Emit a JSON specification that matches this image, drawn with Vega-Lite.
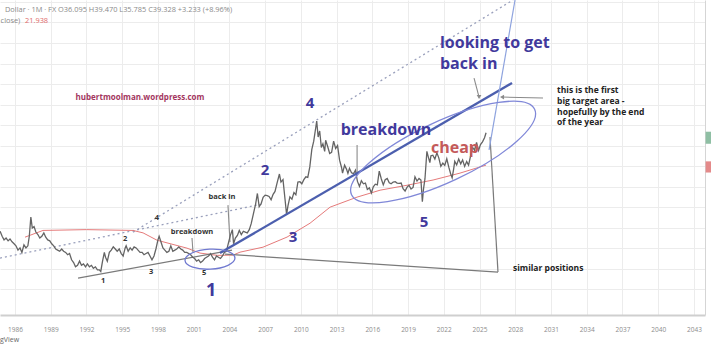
{
  "$schema": "https://vega.github.io/schema/vega-lite/v6.json",
  "width": 705,
  "height": 315,
  "autosize": {"type": "none"},
  "padding": {"left": 0, "top": 0, "right": 6, "bottom": 35},
  "background": "white",
  "config": {"view": {"stroke": null}, "font": "Open Sans"},
  "datasets": {
    "price": [
      {"year":1984.75,"price":7.2},{"year":1984.92,"price":6.6},{"year":1985.08,"price":6.2},{"year":1985.25,"price":6.4},{"year":1985.42,"price":6.1},{"year":1985.58,"price":6.3},{"year":1985.75,"price":6.0},{"year":1985.92,"price":5.8},
      {"year":1986.08,"price":5.6},{"year":1986.25,"price":5.2},{"year":1986.42,"price":5.4},{"year":1986.58,"price":5.0},{"year":1986.75,"price":5.7},{"year":1986.92,"price":5.4},
      {"year":1987.08,"price":5.6},{"year":1987.2,"price":6.6},{"year":1987.33,"price":9.2},{"year":1987.45,"price":7.6},{"year":1987.6,"price":7.8},{"year":1987.75,"price":7.1},{"year":1987.92,"price":6.8},
      {"year":1988.08,"price":6.4},{"year":1988.25,"price":6.6},{"year":1988.42,"price":7.0},{"year":1988.58,"price":6.5},{"year":1988.75,"price":6.2},{"year":1988.92,"price":6.1},
      {"year":1989.08,"price":5.8},{"year":1989.25,"price":5.6},{"year":1989.42,"price":5.3},{"year":1989.58,"price":5.2},{"year":1989.75,"price":5.1},{"year":1989.92,"price":5.3},
      {"year":1990.08,"price":5.1},{"year":1990.25,"price":5.0},{"year":1990.42,"price":4.8},{"year":1990.58,"price":4.9},{"year":1990.75,"price":4.4},{"year":1990.92,"price":4.2},
      {"year":1991.08,"price":3.9},{"year":1991.25,"price":4.0},{"year":1991.42,"price":4.3},{"year":1991.58,"price":4.0},{"year":1991.75,"price":4.1},{"year":1991.92,"price":3.9},
      {"year":1992.08,"price":4.1},{"year":1992.25,"price":3.9},{"year":1992.42,"price":4.0},{"year":1992.58,"price":3.8},{"year":1992.75,"price":3.9},{"year":1992.92,"price":3.7},
      {"year":1993.08,"price":3.7},{"year":1993.2,"price":3.6},{"year":1993.35,"price":4.3},{"year":1993.5,"price":5.0},{"year":1993.6,"price":4.6},{"year":1993.75,"price":4.3},{"year":1993.92,"price":5.0},
      {"year":1994.08,"price":5.2},{"year":1994.25,"price":5.5},{"year":1994.42,"price":5.3},{"year":1994.58,"price":5.1},{"year":1994.75,"price":5.3},{"year":1994.92,"price":4.9},
      {"year":1995.08,"price":4.7},{"year":1995.25,"price":5.4},{"year":1995.33,"price":5.6},{"year":1995.5,"price":5.1},{"year":1995.67,"price":5.4},{"year":1995.83,"price":5.2},
      {"year":1996.0,"price":5.5},{"year":1996.17,"price":5.4},{"year":1996.33,"price":5.2},{"year":1996.5,"price":5.0},{"year":1996.67,"price":5.0},{"year":1996.83,"price":4.8},
      {"year":1997.0,"price":4.9},{"year":1997.17,"price":5.0},{"year":1997.33,"price":4.7},{"year":1997.5,"price":4.4},{"year":1997.67,"price":4.7},{"year":1997.83,"price":5.3},
      {"year":1998.0,"price":6.2},{"year":1998.1,"price":6.6},{"year":1998.25,"price":6.0},{"year":1998.42,"price":5.4},{"year":1998.58,"price":5.2},{"year":1998.75,"price":5.0},{"year":1998.92,"price":5.1},
      {"year":1999.08,"price":5.6},{"year":1999.25,"price":5.1},{"year":1999.42,"price":5.2},{"year":1999.58,"price":5.3},{"year":1999.75,"price":5.5},{"year":1999.92,"price":5.3},
      {"year":2000.08,"price":5.2},{"year":2000.25,"price":5.0},{"year":2000.42,"price":5.0},{"year":2000.58,"price":4.9},{"year":2000.75,"price":4.8},{"year":2000.92,"price":4.6},
      {"year":2001.08,"price":4.5},{"year":2001.25,"price":4.3},{"year":2001.42,"price":4.4},{"year":2001.58,"price":4.2},{"year":2001.75,"price":4.3},{"year":2001.92,"price":4.5},
      {"year":2002.08,"price":4.6},{"year":2002.25,"price":4.7},{"year":2002.42,"price":4.9},{"year":2002.58,"price":4.6},{"year":2002.75,"price":4.4},{"year":2002.92,"price":4.7},
      {"year":2003.08,"price":4.6},{"year":2003.25,"price":4.5},{"year":2003.42,"price":4.7},{"year":2003.58,"price":5.0},{"year":2003.75,"price":5.1},{"year":2003.92,"price":5.9},
      {"year":2004.08,"price":6.7},{"year":2004.25,"price":7.4},{"year":2004.35,"price":5.8},{"year":2004.5,"price":6.4},{"year":2004.67,"price":6.7},{"year":2004.83,"price":7.3},
      {"year":2005.0,"price":6.8},{"year":2005.17,"price":7.2},{"year":2005.33,"price":7.1},{"year":2005.5,"price":7.0},{"year":2005.67,"price":7.4},{"year":2005.83,"price":8.2},
      {"year":2006.0,"price":9.6},{"year":2006.2,"price":11.5},{"year":2006.35,"price":13.8},{"year":2006.5,"price":11.0},{"year":2006.67,"price":11.6},{"year":2006.83,"price":12.9},
      {"year":2007.0,"price":13.4},{"year":2007.17,"price":13.3},{"year":2007.33,"price":13.1},{"year":2007.5,"price":12.4},{"year":2007.67,"price":13.6},{"year":2007.83,"price":14.3},
      {"year":2008.0,"price":16.5},{"year":2008.2,"price":19.3},{"year":2008.33,"price":16.8},{"year":2008.5,"price":17.5},{"year":2008.67,"price":12.5},{"year":2008.8,"price":9.6},{"year":2008.92,"price":11.2},
      {"year":2009.08,"price":13.0},{"year":2009.25,"price":12.5},{"year":2009.42,"price":14.0},{"year":2009.58,"price":13.5},{"year":2009.75,"price":16.8},{"year":2009.92,"price":16.9},
      {"year":2010.08,"price":16.3},{"year":2010.25,"price":17.5},{"year":2010.42,"price":18.4},{"year":2010.58,"price":18.2},{"year":2010.75,"price":21.8},{"year":2010.92,"price":29.5},
      {"year":2011.08,"price":34.0},{"year":2011.25,"price":43.0},{"year":2011.33,"price":48.0},{"year":2011.45,"price":36.5},{"year":2011.58,"price":40.5},{"year":2011.72,"price":30.5},{"year":2011.85,"price":32.5},
      {"year":2012.0,"price":28.5},{"year":2012.08,"price":34.5},{"year":2012.25,"price":31.0},{"year":2012.42,"price":27.5},{"year":2012.58,"price":28.0},{"year":2012.75,"price":34.0},{"year":2012.92,"price":30.0},
      {"year":2013.08,"price":31.5},{"year":2013.25,"price":24.5},{"year":2013.42,"price":21.5},{"year":2013.5,"price":19.6},{"year":2013.67,"price":22.5},{"year":2013.83,"price":21.0},{"year":2013.95,"price":19.5},
      {"year":2014.08,"price":21.3},{"year":2014.25,"price":19.7},{"year":2014.42,"price":19.4},{"year":2014.58,"price":20.6},{"year":2014.75,"price":17.0},{"year":2014.92,"price":15.6},
      {"year":2015.08,"price":17.2},{"year":2015.25,"price":16.3},{"year":2015.42,"price":16.5},{"year":2015.58,"price":14.8},{"year":2015.75,"price":15.2},{"year":2015.92,"price":13.9},
      {"year":2016.08,"price":15.5},{"year":2016.25,"price":16.2},{"year":2016.42,"price":16.0},{"year":2016.58,"price":20.3},{"year":2016.75,"price":17.8},{"year":2016.92,"price":16.0},
      {"year":2017.08,"price":17.5},{"year":2017.25,"price":17.9},{"year":2017.42,"price":16.6},{"year":2017.58,"price":16.3},{"year":2017.75,"price":16.8},{"year":2017.92,"price":16.9},
      {"year":2018.08,"price":16.5},{"year":2018.25,"price":16.4},{"year":2018.42,"price":16.5},{"year":2018.58,"price":15.0},{"year":2018.75,"price":14.4},{"year":2018.92,"price":15.4},
      {"year":2019.08,"price":15.9},{"year":2019.25,"price":14.9},{"year":2019.42,"price":15.3},{"year":2019.58,"price":18.4},{"year":2019.75,"price":17.1},{"year":2019.92,"price":17.9},
      {"year":2020.08,"price":17.4},{"year":2020.2,"price":12.0},{"year":2020.3,"price":15.0},{"year":2020.42,"price":17.8},{"year":2020.58,"price":28.5},{"year":2020.67,"price":26.5},{"year":2020.83,"price":23.5},{"year":2020.92,"price":26.4},
      {"year":2021.08,"price":26.7},{"year":2021.25,"price":25.0},{"year":2021.42,"price":27.8},{"year":2021.58,"price":25.5},{"year":2021.75,"price":22.0},{"year":2021.92,"price":23.3},
      {"year":2022.08,"price":22.4},{"year":2022.25,"price":25.1},{"year":2022.42,"price":21.7},{"year":2022.58,"price":19.3},{"year":2022.7,"price":18.1},{"year":2022.83,"price":21.1},{"year":2022.92,"price":24.0},
      {"year":2023.08,"price":22.6},{"year":2023.25,"price":25.0},{"year":2023.42,"price":23.0},{"year":2023.58,"price":24.6},{"year":2023.75,"price":22.0},{"year":2023.92,"price":23.9},
      {"year":2024.08,"price":22.5},{"year":2024.25,"price":26.4},{"year":2024.42,"price":30.5},{"year":2024.58,"price":29.1},{"year":2024.75,"price":33.3},{"year":2024.92,"price":29.0},
      {"year":2025.08,"price":32.0},{"year":2025.25,"price":33.6},{"year":2025.42,"price":36.1},{"year":2025.55,"price":39.3}
    ],
    "ma": [
      {"year":1986.84,"price":6.5},{"year":1988.35,"price":7.3},{"year":1992.0,"price":7.4},{"year":1995.9,"price":7.3},{"year":1996.75,"price":7.0},{"year":1997.92,"price":6.17},
      {"year":2000.44,"price":5.38},{"year":2001.53,"price":4.94},{"year":2003.0,"price":4.75},{"year":2004.3,"price":4.77},{"year":2004.89,"price":5.02},{"year":2006.82,"price":5.47},
      {"year":2008.84,"price":6.51},{"year":2010.77,"price":8.27},{"year":2012.45,"price":10.9},{"year":2014.72,"price":12.96},{"year":2016.65,"price":14.6},{"year":2018.91,"price":15.9},
      {"year":2021.1,"price":17.4},{"year":2023.36,"price":19.6},{"year":2025.55,"price":22.5}
    ],
    "segs": [
      {"id":"t1","kind":"trend","year":2003.21,"price":4.94},{"id":"t1","kind":"trend","year":2027.73,"price":92.6},
      {"id":"s1","kind":"steep","year":2025.8,"price":29.2},{"id":"s1","kind":"steep","year":2027.98,"price":387},
      {"id":"d1","kind":"dotted","year":1995.91,"price":7.09},{"id":"d1","kind":"dotted","year":2027.81,"price":387},
      {"id":"d2","kind":"dotted","year":1984.74,"price":4.53},{"id":"d2","kind":"dotted","year":2006.74,"price":11.49},
      {"id":"g1","kind":"gray","year":1991.29,"price":3.21},{"id":"g1","kind":"gray","year":2004.22,"price":5.2},
      {"id":"g2","kind":"gray","year":2003.63,"price":4.85},{"id":"g2","kind":"gray","year":2026.55,"price":3.56},
      {"id":"g3","kind":"gray","year":2025.88,"price":36.5},{"id":"g3","kind":"gray","year":2026.55,"price":3.56},
      {"id":"a1","kind":"arrow","year":2030.33,"price":71.5},{"id":"a1","kind":"arrow","year":2026.89,"price":72.7},
      {"id":"a2","kind":"arrow","year":2024.54,"price":100.9},{"id":"a2","kind":"arrow","year":2024.96,"price":72.7},
      {"id":"a3","kind":"arrow","year":2014.72,"price":31.8},{"id":"a3","kind":"arrow","year":2014.72,"price":18.9},
      {"id":"a4","kind":"arrow","year":2003.88,"price":11.29},{"id":"a4","kind":"arrow","year":2004.05,"price":5.97},
      {"id":"a5","kind":"arrow","year":2000.86,"price":6.4},{"id":"a5","kind":"arrow","year":2000.94,"price":5.02}
    ],
    "heads": [
      {"kind":"left","year":2026.89,"price":72.7},
      {"kind":"down","year":2024.96,"price":72.7}
    ],
    "ellipses": [
      {"kind":"big","year":2021.94,"price":28.2},
      {"kind":"small","year":2002.37,"price":4.45}
    ],
    "tags": [
      {"kind":"up","year":2043.98,"year2":2044.6,"price":40.0,"price2":32.5},
      {"kind":"down","year":2043.98,"year2":2044.6,"price":24.0,"price2":19.8}
    ],
    "texts": [
      {"kind":"header","t":"Dollar · 1M · FX  O36.095  H39.470  L35.785  C39.328  +3.233 (+8.96%)","year":1985.16,"price":326},
      {"kind":"header","t":"close)","year":1984.79,"price":269.6},
      {"kind":"headerRed","t":"21.938","year":1986.84,"price":269.6},
      {"kind":"watermark","t":"hubertmoolman.wordpress.com","year":1996.49,"price":71.5},
      {"kind":"purpleBig","t":"looking to get","year":2021.68,"price":184.5},
      {"kind":"purpleBig","t":"back in","year":2021.68,"price":128},
      {"kind":"purpleMid","t":"breakdown","year":2017.15,"price":41.2},
      {"kind":"cheap","t":"cheap","year":2022.94,"price":30.2},
      {"kind":"purpleNum","t":"4","year":2010.77,"price":65.5},
      {"kind":"purpleNum","t":"2","year":2006.99,"price":20.6},
      {"kind":"purpleNum","t":"3","year":2009.34,"price":6.51},
      {"kind":"purpleNum","t":"5","year":2020.34,"price":8.42},
      {"kind":"purpleOne","t":"1","year":2002.46,"price":2.56},
      {"kind":"small","t":"4","year":1997.92,"price":9.03},
      {"kind":"small","t":"2","year":1995.24,"price":6.28},
      {"kind":"small","t":"1","year":1993.39,"price":3.05},
      {"kind":"small","t":"3","year":1997.42,"price":3.56},
      {"kind":"small","t":"5","year":2001.87,"price":3.5},
      {"kind":"small","t":"breakdown","year":2000.86,"price":7.09},
      {"kind":"small","t":"back in","year":2003.38,"price":12.96},
      {"kind":"note","t":"this is the first","year":2031.51,"price":82.0},
      {"kind":"note","t":"big target area -","year":2031.51,"price":67.9},
      {"kind":"note","t":"hopefully by the end","year":2031.51,"price":56.1},
      {"kind":"note","t":"of the year","year":2031.51,"price":47.2},
      {"kind":"note","t":"similar positions","year":2027.81,"price":3.81},
      {"kind":"footer","t":"gView","year":1984.74,"price":1.1}
    ]
  },
  "encoding": {
    "x": {"field": "year", "type": "quantitative",
      "scale": {"domain": [1984.74, 2043.93], "nice": false, "zero": false},
      "axis": {"orient": "bottom", "title": null, "values": [1986,1989,1992,1995,1998,2001,2004,2007,2010,2013,2016,2019,2022,2025,2028,2031,2034,2037,2040,2043],
        "format": "d", "labelFontSize": 6.5, "labelColor": "#8c8c8c", "ticks": false, "grid": true, "gridColor": "#ececec", "gridWidth": 1,
        "domainColor": "#cfcfcf", "domainWidth": 2, "labelPadding": 11, "labelFlush": false}},
    "y": {"field": "price", "type": "quantitative",
      "scale": {"type": "log", "domain": [1.7, 387], "nice": false, "zero": false},
      "axis": {"orient": "right", "title": null, "labels": false, "ticks": false, "grid": true, "gridColor": "#ececec",
        "domainColor": "#d5d5d5", "domainWidth": 1,
        "values": [374, 263, 184, 129.5, 91, 63.9, 44.9, 31.5, 22.1, 15.5, 10.9, 7.67, 5.39, 3.78, 2.65]}}
  },
  "layer": [
    {"data": {"name": "tags"}, "transform": [{"filter": "datum.kind === 'up'"}],
     "mark": {"type": "rect", "color": "#8fbfa4", "clip": false},
     "encoding": {"x2": {"field": "year2"}, "y2": {"field": "price2"}}},
    {"data": {"name": "tags"}, "transform": [{"filter": "datum.kind === 'down'"}],
     "mark": {"type": "rect", "color": "#e48a8a", "clip": false},
     "encoding": {"x2": {"field": "year2"}, "y2": {"field": "price2"}}},
    {"data": {"name": "segs"}, "transform": [{"filter": "datum.kind === 'dotted'"}],
     "mark": {"type": "line", "color": "#9aa0bc", "strokeWidth": 1.3, "strokeDash": [2, 3]},
     "encoding": {"detail": {"field": "id"}}},
    {"data": {"name": "ma"}, "mark": {"type": "line", "color": "#e57a7a", "strokeWidth": 1}},
    {"data": {"name": "segs"}, "transform": [{"filter": "datum.kind === 'gray'"}],
     "mark": {"type": "line", "color": "#7a7a7a", "strokeWidth": 1.2},
     "encoding": {"detail": {"field": "id"}}},
    {"data": {"name": "segs"}, "transform": [{"filter": "datum.kind === 'arrow'"}],
     "mark": {"type": "line", "color": "#8a8a8a", "strokeWidth": 1.1},
     "encoding": {"detail": {"field": "id"}}},
    {"data": {"name": "heads"}, "transform": [{"filter": "datum.kind === 'left'"}],
     "mark": {"type": "point", "shape": "triangle-left", "size": 22, "filled": true, "color": "#8a8a8a", "opacity": 1}},
    {"data": {"name": "heads"}, "transform": [{"filter": "datum.kind === 'down'"}],
     "mark": {"type": "point", "shape": "triangle-down", "size": 22, "filled": true, "color": "#8a8a8a", "opacity": 1}},
    {"data": {"name": "price"}, "mark": {"type": "line", "color": "#646464", "strokeWidth": 1.3}},
    {"data": {"name": "segs"}, "transform": [{"filter": "datum.kind === 'trend'"}],
     "mark": {"type": "line", "color": "#4c5fae", "strokeWidth": 2.3},
     "encoding": {"detail": {"field": "id"}}},
    {"data": {"name": "segs"}, "transform": [{"filter": "datum.kind === 'steep'"}],
     "mark": {"type": "line", "color": "#8ea3de", "strokeWidth": 1.2},
     "encoding": {"detail": {"field": "id"}}},
    {"data": {"name": "ellipses"}, "transform": [{"filter": "datum.kind === 'big'"}],
     "mark": {"type": "point", "shape": "M -1 0 C -1 -0.166 -0.552 -0.3 0 -0.3 C 0.552 -0.3 1 -0.166 1 0 C 1 0.166 0.552 0.3 0 0.3 C -0.552 0.3 -1 0.166 -1 0 Z",
       "size": 40804, "angle": -25, "filled": false, "stroke": "#8088d8", "strokeWidth": 1.3, "opacity": 1}},
    {"data": {"name": "ellipses"}, "transform": [{"filter": "datum.kind === 'small'"}],
     "mark": {"type": "point", "shape": "M -1 0 C -1 -0.221 -0.552 -0.4 0 -0.4 C 0.552 -0.4 1 -0.221 1 0 C 1 0.221 0.552 0.4 0 0.4 C -0.552 0.4 -1 0.221 -1 0 Z",
       "size": 2500, "angle": -3, "filled": false, "stroke": "#7079d0", "strokeWidth": 1.3, "opacity": 1}},
    {"data": {"name": "texts"}, "transform": [{"filter": "datum.kind === 'header'"}],
     "mark": {"type": "text", "align": "left", "baseline": "middle", "fontSize": 7.4, "color": "#8a8a8a"},
     "encoding": {"text": {"field": "t"}}},
    {"data": {"name": "texts"}, "transform": [{"filter": "datum.kind === 'headerRed'"}],
     "mark": {"type": "text", "align": "left", "baseline": "middle", "fontSize": 7.4, "color": "#e06a6a"},
     "encoding": {"text": {"field": "t"}}},
    {"data": {"name": "texts"}, "transform": [{"filter": "datum.kind === 'watermark'"}],
     "mark": {"type": "text", "align": "center", "baseline": "middle", "fontSize": 8, "fontWeight": "bold", "color": "#a3365e"},
     "encoding": {"text": {"field": "t"}}},
    {"data": {"name": "texts"}, "transform": [{"filter": "datum.kind === 'purpleBig'"}],
     "mark": {"type": "text", "align": "left", "baseline": "middle", "fontSize": 16, "fontWeight": "bold", "color": "#41399c"},
     "encoding": {"text": {"field": "t"}}},
    {"data": {"name": "texts"}, "transform": [{"filter": "datum.kind === 'purpleMid'"}],
     "mark": {"type": "text", "align": "center", "baseline": "middle", "fontSize": 16, "fontWeight": "bold", "color": "#41399c"},
     "encoding": {"text": {"field": "t"}}},
    {"data": {"name": "texts"}, "transform": [{"filter": "datum.kind === 'cheap'"}],
     "mark": {"type": "text", "align": "center", "baseline": "middle", "fontSize": 16, "fontWeight": "bold", "color": "#c45a5a"},
     "encoding": {"text": {"field": "t"}}},
    {"data": {"name": "texts"}, "transform": [{"filter": "datum.kind === 'purpleNum'"}],
     "mark": {"type": "text", "align": "center", "baseline": "middle", "fontSize": 15, "fontWeight": "bold", "color": "#41399c"},
     "encoding": {"text": {"field": "t"}}},
    {"data": {"name": "texts"}, "transform": [{"filter": "datum.kind === 'purpleOne'"}],
     "mark": {"type": "text", "align": "center", "baseline": "middle", "fontSize": 18, "fontWeight": "bold", "color": "#41399c"},
     "encoding": {"text": {"field": "t"}}},
    {"data": {"name": "texts"}, "transform": [{"filter": "datum.kind === 'small'"}],
     "mark": {"type": "text", "align": "center", "baseline": "middle", "fontSize": 7.5, "fontWeight": "bold", "color": "#333333"},
     "encoding": {"text": {"field": "t"}}},
    {"data": {"name": "texts"}, "transform": [{"filter": "datum.kind === 'note'"}],
     "mark": {"type": "text", "align": "left", "baseline": "middle", "fontSize": 8.5, "fontWeight": "bold", "color": "#222222"},
     "encoding": {"text": {"field": "t"}}},
    {"data": {"name": "texts"}, "transform": [{"filter": "datum.kind === 'footer'"}],
     "mark": {"type": "text", "align": "left", "baseline": "middle", "fontSize": 7, "color": "#666666"},
     "encoding": {"text": {"field": "t"}}}
  ]
}
